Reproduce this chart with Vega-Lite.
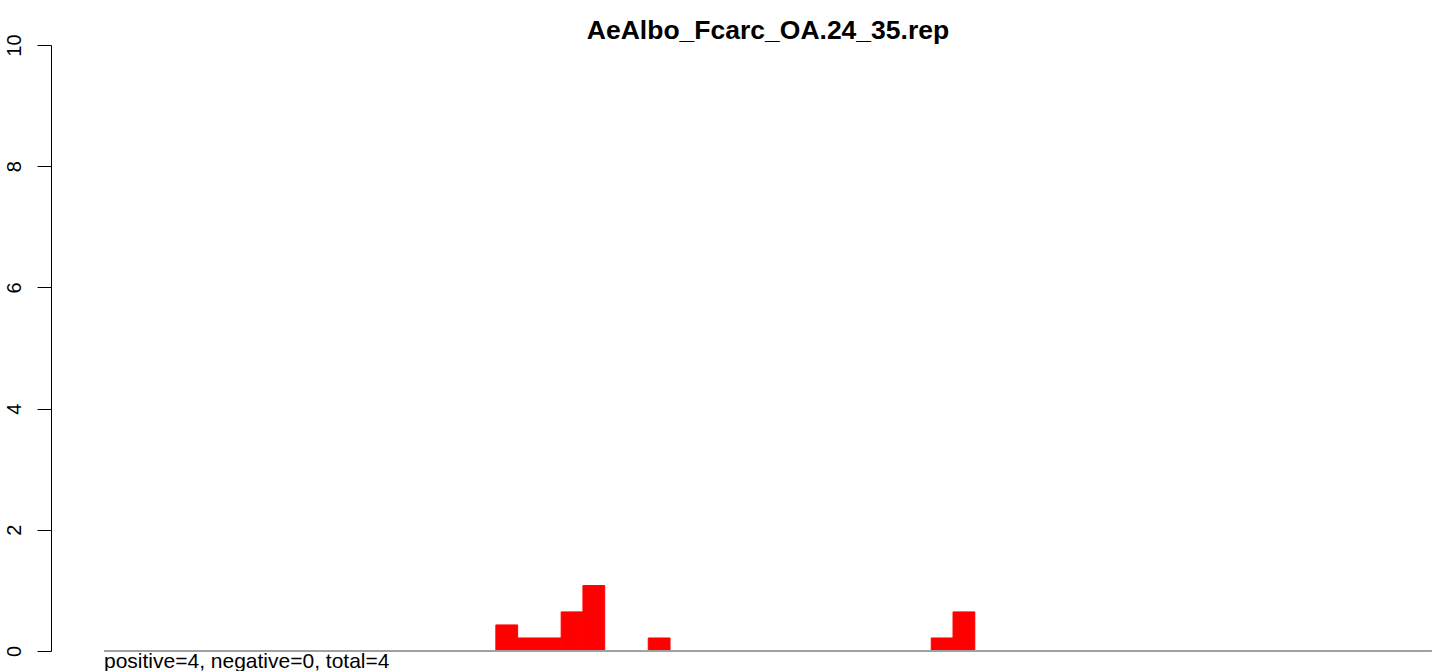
{
  "$schema": "https://vega.github.io/schema/vega-lite/v6.json",
  "autosize": "none",
  "width": 1388,
  "height": 606,
  "padding": {"left": 51, "top": 45, "right": 0, "bottom": 20},
  "background": "white",
  "config": {"view": {"stroke": null}, "font": "Liberation Sans"},
  "title": {
    "text": "AeAlbo_Fcarc_OA.24_35.rep",
    "font": "Liberation Sans",
    "fontSize": 26.5,
    "fontWeight": "bold",
    "color": "black",
    "anchor": "middle",
    "frame": "group",
    "dx": 23,
    "baseline": "alphabetic",
    "offset": 0,
    "dy": 32
  },
  "datasets": {
    "bars": [
      {"start": 18, "end": 19, "value": 0.43, "zero": 0},
      {"start": 19, "end": 20, "value": 0.215, "zero": 0},
      {"start": 20, "end": 21, "value": 0.215, "zero": 0},
      {"start": 21, "end": 22, "value": 0.645, "zero": 0},
      {"start": 22, "end": 23, "value": 1.08, "zero": 0},
      {"start": 25, "end": 26, "value": 0.215, "zero": 0},
      {"start": 38, "end": 39, "value": 0.215, "zero": 0},
      {"start": 39, "end": 40, "value": 0.645, "zero": 0}
    ],
    "baseline": [{"from": 0, "to": 61, "level": 0}],
    "note": [{"label": "positive=4, negative=0, total=4", "px": 0, "py": 0}]
  },
  "layer": [
    {
      "data": {"name": "bars"},
      "mark": {"type": "rect", "color": "#ff0000", "stroke": "#ff0000", "strokeWidth": 1},
      "encoding": {
        "x": {"field": "start", "type": "quantitative", "scale": {"domain": [-2.4345, 61.323], "nice": false, "zero": false}, "axis": null},
        "x2": {"field": "end"},
        "y": {"field": "value", "type": "quantitative", "scale": {"domain": [0, 10], "nice": false}, "axis": {
          "values": [0, 2, 4, 6, 8, 10],
          "format": "d",
          "title": null,
          "grid": false,
          "domainColor": "black",
          "domainWidth": 1,
          "tickColor": "black",
          "tickWidth": 1,
          "tickSize": 14,
          "labelAngle": -90,
          "labelAlign": "center",
          "labelBaseline": "alphabetic",
          "labelPadding": 17,
          "labelFont": "Liberation Sans",
          "labelFontSize": 20,
          "labelColor": "black",
          "labelFlush": false,
          "labelOverlap": false
        }},
        "y2": {"field": "zero"}
      }
    },
    {
      "data": {"name": "baseline"},
      "mark": {"type": "rule", "color": "#a0a0a0", "strokeWidth": 2},
      "encoding": {
        "x": {"field": "from", "type": "quantitative"},
        "x2": {"field": "to"},
        "y": {"field": "level", "type": "quantitative"}
      }
    },
    {
      "data": {"name": "note"},
      "mark": {"type": "text", "align": "left", "baseline": "top", "font": "Liberation Sans", "fontSize": 21, "color": "black"},
      "encoding": {
        "x": {"field": "px", "type": "quantitative"},
        "y": {"field": "py", "type": "quantitative"},
        "text": {"field": "label"}
      }
    }
  ]
}
